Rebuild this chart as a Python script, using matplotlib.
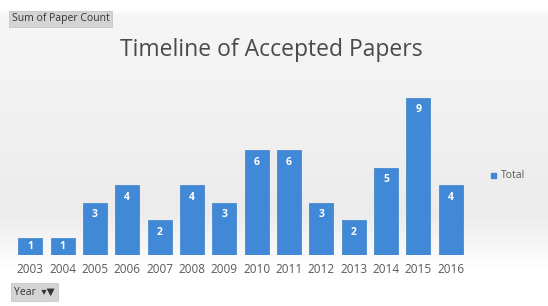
import numpy as np
import matplotlib.pyplot as plt

years = ["2003", "2004", "2005", "2006", "2007", "2008", "2009",
         "2010", "2011", "2012", "2013", "2014", "2015", "2016"]
paper_count = [1, 1, 3, 4, 2, 4, 3, 6, 6, 3, 2, 5, 9, 4]

fig = plt.figure(figsize=(5.48, 3.06), dpi=100)

# soft gray background, lighter at the top and white at the bottom
bg = fig.add_axes([0, 0, 1, 1], zorder=0)
yy = np.linspace(0, 1, 306).reshape(-1, 1)
shade = np.interp(yy, [0, 0.03, 0.05, 0.3, 0.7, 0.88, 1.0], [1, 1, 0.965, 0.95, 0.925, 1.0, 1.0])
bg.imshow(np.dstack([shade, shade, shade]), aspect="auto", extent=[0, 1, 1, 0])
bg.set_xlim(0, 1)
bg.set_ylim(1, 0)
bg.axis("off")

ax = fig.add_axes([14 / 548, 1 - 255 / 306, 453 / 548, 175 / 306], zorder=1)
ax.patch.set_alpha(0)
x = np.arange(len(years))
bars = ax.bar(x, paper_count, width=0.74, color="#4189d6", edgecolor="#3a7fc9", linewidth=0.5)
for b, v in zip(bars, paper_count):
    ax.text(b.get_x() + b.get_width() / 2, max(v - 0.7, v / 2), str(v), ha="center", va="center",
            color="white", fontsize=7.5, fontweight="bold", family="Open Sans")

ax.set_xlim(-0.5, len(years) - 0.5)
ax.set_ylim(0, 10)
ax.set_xticks(x)
ax.set_xticklabels(years, fontsize=8.5, color="#595959", family="Open Sans")
ax.tick_params(axis="x", length=0, pad=6)
ax.set_yticks([])
for s in ax.spines.values():
    s.set_visible(False)

fig.text(271 / 548, 1 - 50 / 306, "Timeline of Accepted Papers", ha="center", va="center",
         fontsize=16.5, color="#4a4a4a", family="Open Sans")

# legend
fig.patches.append(plt.Rectangle((491 / 548, 1 - 178 / 306), 5 / 548, 5 / 306,
                                 transform=fig.transFigure, color="#4189d6"))
fig.text(501 / 548, 1 - 175 / 306, "Total", ha="left", va="center", fontsize=7.5,
         color="#595959", family="Open Sans")

# pivot field buttons
fig.text(12 / 548, 1 - 19 / 306, "Sum of Paper Count", ha="left", va="center", fontsize=7.5,
         color="#333333", family="Open Sans",
         bbox=dict(boxstyle="square,pad=0.25", fc="#d4d4d4", ec="#c0c0c0", lw=0.5))
fig.text(14 / 548, 1 - 292 / 306, "Year  \u25be\u25bc", ha="left", va="center", fontsize=7.5,
         color="#333333", family=["Open Sans", "DejaVu Sans"],
         bbox=dict(boxstyle="square,pad=0.3", fc="#d4d4d4", ec="#c0c0c0", lw=0.5))

fig.savefig("out.png", dpi=100)
